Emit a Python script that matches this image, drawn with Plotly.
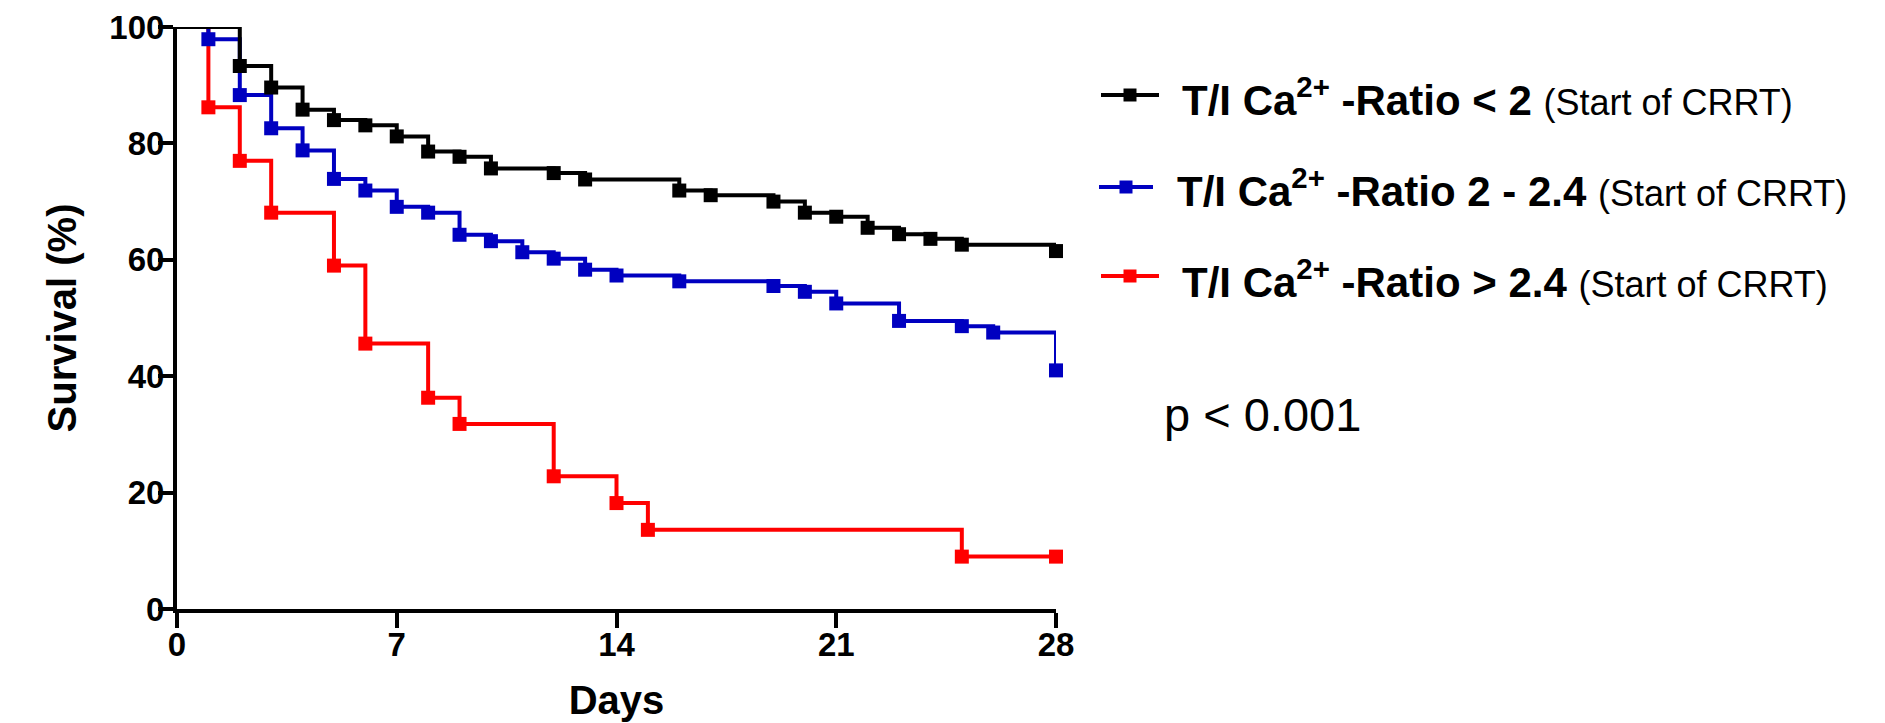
import plotly.graph_objects as go

# ---- data ----
black_days = [0, 2, 3, 4, 5, 6, 7, 8, 9, 10, 12, 13, 16, 17, 19, 20, 21, 22, 23, 24, 25, 28]
black_surv = [100, 93.3, 89.6, 85.8, 84.0, 83.1, 81.2, 78.6, 77.7, 75.7, 74.9, 73.8,
              71.9, 71.1, 70.0, 68.1, 67.4, 65.5, 64.4, 63.6, 62.6, 61.5]

blue_days = [0, 1, 2, 3, 4, 5, 6, 7, 8, 9, 10, 11, 12, 13, 14, 16, 19, 20, 21, 23, 25, 26, 28]
blue_surv = [100, 97.9, 88.3, 82.6, 78.8, 73.9, 71.9, 69.1, 68.1, 64.3, 63.2, 61.3,
             60.2, 58.3, 57.3, 56.3, 55.5, 54.5, 52.5, 49.5, 48.6, 47.5, 41.0]

red_days = [0, 1, 2, 3, 5, 6, 8, 9, 12, 14, 15, 25, 28]
red_surv = [100, 86.2, 77.0, 68.1, 59.0, 45.6, 36.3, 31.8, 22.8, 18.2, 13.6, 9.0, 9.0]

x_ticks = [0, 7, 14, 21, 28]
y_ticks = [0, 20, 40, 60, 80, 100]

group_labels = [
    "T/I Ca<sup>2+</sup> -Ratio &lt; 2",
    "T/I Ca<sup>2+</sup> -Ratio 2 - 2.4",
    "T/I Ca<sup>2+</sup> -Ratio &gt; 2.4",
]
label_suffix = "(Start of CRRT)"
p_text = "p &lt; 0.001"

BLACK = "#000000"
BLUE = "#0000C0"
RED = "#FF0000"
FONT = "Liberation Sans"

# page has an 8px body margin; layout is computed in page pixels
OFF = 8
W, H = 1885, 723
L, T = 177 - OFF, 27 - OFF
R = W - (1056 - OFF)
B = H - (609 - OFF)
PW, PH = W - L - R, H - T - B


def px(x):
    return (x - OFF - L) / PW


def py(y):
    return (H - B - (y - OFF)) / PH


fig = go.Figure()

series = [
    (red_days, red_surv, RED, group_labels[2]),
    (blue_days, blue_surv, BLUE, group_labels[1]),
    (black_days, black_surv, BLACK, group_labels[0]),
]
for days, surv, col, name in series:
    sizes = [0] + [14] * (len(days) - 1)
    fig.add_trace(go.Scatter(
        x=days, y=surv, mode="lines+markers", name=name,
        line=dict(color=col, width=4, shape="hv"),
        marker=dict(symbol="square", size=sizes, color=col, opacity=1, line=dict(width=0)),
        cliponaxis=False, showlegend=False,
    ))

# ---- manual legend (to match long legend lines) ----
rows = [
    dict(col=BLACK, x0=1101, x1=1159, ly=95, tx=1180, ty=97, label=group_labels[0]),
    dict(col=BLUE, x0=1099, x1=1153, ly=187, tx=1175, ty=188, label=group_labels[1]),
    dict(col=RED, x0=1101, x1=1159, ly=276, tx=1180, ty=279, label=group_labels[2]),
]
shapes = []
annotations = []
for r in rows:
    shapes.append(dict(type="line", xref="paper", yref="paper",
                       x0=px(r["x0"]), x1=px(r["x1"]), y0=py(r["ly"]), y1=py(r["ly"]),
                       line=dict(color=r["col"], width=4)))
    cx = (r["x0"] + r["x1"]) / 2
    shapes.append(dict(type="rect", xref="paper", yref="paper",
                       x0=px(cx - 6.5), x1=px(cx + 6.5), y0=py(r["ly"] + 6.5), y1=py(r["ly"] - 6.5),
                       fillcolor=r["col"], line=dict(width=0)))
    annotations.append(dict(
        xref="paper", yref="paper", x=px(r["tx"]), y=py(r["ty"]),
        xanchor="left", yanchor="middle", showarrow=False,
        text="<b>" + r["label"] + "</b> <span style='font-size:36px'>" + label_suffix + "</span>",
        font=dict(family=FONT, size=42, color=BLACK),
    ))

annotations.append(dict(
    xref="paper", yref="paper", x=px(1162), y=py(414),
    xanchor="left", yanchor="middle", showarrow=False,
    text=p_text, font=dict(family=FONT, size=47, color=BLACK),
))

axis_common = dict(
    showline=True, linewidth=4, linecolor=BLACK,
    ticks="outside", ticklen=15, tickwidth=4, tickcolor=BLACK,
    showgrid=False, zeroline=False, automargin=False,
    tickfont=dict(family=FONT, size=33, color=BLACK, weight="bold"),
)

fig.update_layout(
    width=W, height=H,
    margin=dict(l=L, r=R, t=T, b=B, autoexpand=False),
    paper_bgcolor="white", plot_bgcolor="white",
    xaxis=dict(range=[0, 28], tickvals=x_ticks, ticktext=[str(v) for v in x_ticks],
               ticklabelstandoff=-12,
               title=dict(text="Days", standoff=25,
                          font=dict(family=FONT, size=40, color=BLACK, weight="bold")),
               **axis_common),
    yaxis=dict(range=[0, 100], tickvals=y_ticks, ticktext=[str(v) for v in y_ticks],
               ticklabelstandoff=-13,
               title=dict(text="Survival (%)", standoff=21,
                          font=dict(family=FONT, size=40, color=BLACK, weight="bold")),
               **axis_common),
    shapes=shapes,
    annotations=annotations,
    showlegend=False,
)

fig.write_html("out.html")
